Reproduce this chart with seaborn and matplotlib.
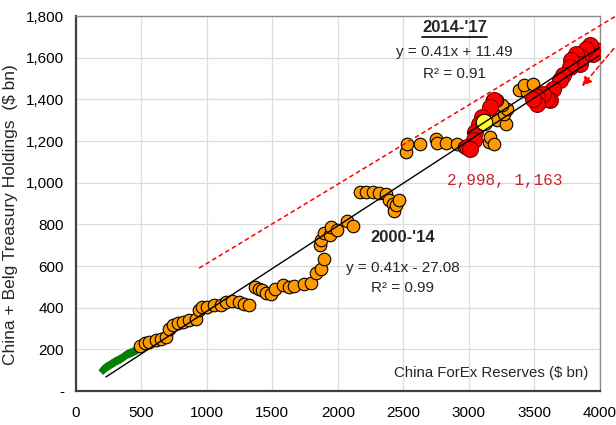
import matplotlib
matplotlib.use("Agg")
import matplotlib.pyplot as plt
import numpy as np
import pandas as pd
import seaborn as sns
from matplotlib.ticker import FuncFormatter

# green: earliest, small markers
green_x = [210, 220, 230, 240, 250, 262, 275, 285, 295, 305, 318, 330, 340, 352,
           365, 378, 390, 400, 410, 420, 432, 445, 458, 470]
green_y = [100, 108, 112, 118, 120, 125, 130, 134, 138, 142, 146, 150, 153, 158,
           163, 170, 175, 178, 180, 183, 186, 190, 194, 198]

# orange: 2000-'14
orange_x = [487, 525, 563, 613, 651, 689, 715, 739, 777, 815, 866, 916, 942, 967,
            1005, 1055, 1106, 1144, 1194, 1245, 1283, 1326, 1371, 1396, 1421, 1452,
            1487, 1517, 1578, 1629, 1669, 1745, 1796, 1830, 1871, 1894, 1866, 1871,
            1896, 1939, 1947, 1997, 2073, 2116, 2166, 2217, 2267, 2318, 2368, 2394,
            2419, 2432, 2445, 2470, 2520, 2527, 2628, 2747, 2755, 2823, 2906, 2962,
            3025, 3151, 3164, 3189, 3215, 3285, 3265, 3290, 3252, 3215, 3177, 3379,
            3442, 3417, 3493]
orange_y = [217, 229, 236, 244, 248, 261, 300, 317, 325, 332, 340, 344, 388, 401,
            404, 412, 412, 428, 432, 428, 420, 415, 500, 492, 484, 471,
            468, 491, 507, 500, 504, 513, 517, 567, 588, 632, 700, 724,
            759, 748, 788, 775, 817, 791, 956, 956, 956, 953, 948, 916,
            900, 865, 892, 916, 1148, 1185, 1185, 1212, 1191, 1191, 1185, 1172,
            1180, 1196, 1220, 1188, 1300, 1284, 1332, 1356, 1372, 1396, 1396, 1444,
            1436, 1468, 1476]

# red: 2014-'17
red_x = [3972, 3946, 3921, 3896, 3859, 3821, 3846, 3783, 3770, 3720, 3694, 3644,
         3616, 3593, 3568, 3518, 3518, 3492, 3189, 3164, 3101, 3076, 3050, 3038,
         2987, 3012]
red_y = [1636, 1620, 1660, 1643, 1604, 1620, 1571, 1588, 1556, 1516, 1492, 1452,
         1396, 1400, 1428, 1412, 1380, 1404, 1396, 1364, 1316, 1284, 1244, 1204,
         1172, 1164]

latest_x = [3114]
latest_y = [1292]

# regression fits: slope, intercept, x range
fit_0014 = (0.41, -27.08, [230, 4000])
fit_1417 = (0.41, 11.49, [2990, 4000])

trend_x = [942, 4120]
trend_y = [590, 1800]
arrow_from = (4120, 1655)
arrow_to = (3850, 1453)

sns.set_style("white")
plt.rcParams["font.family"] = ["Liberation Sans", "DejaVu Sans"]

fig = plt.figure(figsize=(6.16, 4.25), dpi=100)
ax = fig.add_axes([0.1229, 0.08, 0.851, 0.882])

ax.grid(True, color="#dcdcdc", linewidth=0.9)
ax.set_axisbelow(True)

sns.scatterplot(x=green_x, y=green_y, ax=ax, marker="D", s=24, color="#008000",
                edgecolor="none", zorder=3)
sns.scatterplot(x=orange_x, y=orange_y, ax=ax, s=82, color="#FF9900",
                edgecolor="black", linewidth=0.8, zorder=3)
sns.scatterplot(x=red_x, y=red_y, ax=ax, s=130, color="#FF0000",
                edgecolor="#7a0000", linewidth=0.8, zorder=4)
sns.scatterplot(x=latest_x, y=latest_y, ax=ax, s=140, color="#FFFF33",
                edgecolor="black", linewidth=0.8, zorder=5)

for slope, icpt, xr in (fit_0014, fit_1417):
    xs = np.array(xr, dtype=float)
    sns.lineplot(x=xs, y=slope * xs + icpt, ax=ax, color="black", linewidth=1.0,
                 zorder=6)

ax.plot(trend_x, trend_y, color="red", linestyle=(0, (3, 2)), linewidth=1.1,
        clip_on=False, zorder=6)
ax.annotate("", xy=arrow_to, xytext=arrow_from, annotation_clip=False,
            arrowprops=dict(arrowstyle="-|>", color="red", linestyle=(0, (3, 2)),
                            linewidth=1.1, mutation_scale=14), zorder=6)

ax.set_xlim(0, 4000)
ax.set_ylim(0, 1800)
ax.set_xticks(range(0, 4001, 500))
ax.set_yticks(range(0, 1801, 200))
ax.yaxis.set_major_formatter(FuncFormatter(lambda v, p: "-" if v == 0 else f"{v:,.0f}"))
ax.tick_params(axis="both", direction="out", length=5, width=1.2, color="#404040",
               labelsize=11, labelcolor="black")
ax.tick_params(axis="x", pad=6)

for side in ("left", "bottom"):
    ax.spines[side].set_color("#404040")
    ax.spines[side].set_linewidth(1.6)
for side in ("top", "right"):
    ax.spines[side].set_color("#8c8c8c")
    ax.spines[side].set_linewidth(1.0)

ax.set_ylabel("China + Belg Treasury Holdings  ($ bn)", fontsize=12.5)
ax.yaxis.set_label_coords(-0.111, 0.47)
ax.text(0.978, 0.048, "China ForEx Reserves ($ bn)", transform=ax.transAxes,
        ha="right", va="center", fontsize=10.8)

t = ax.text(2892, 1746, "2014-'17", ha="center", va="center", fontsize=12,
            fontweight="bold")
ax.text(2892, 1626, "y = 0.41x + 11.49", ha="center", va="center", fontsize=11)
ax.text(2892, 1520, "R² = 0.91", ha="center", va="center", fontsize=11)
ax.text(2495, 739, "2000-'14", ha="center", va="center", fontsize=12,
        fontweight="bold")
ax.text(2495, 590, "y = 0.41x - 27.08", ha="center", va="center", fontsize=11)
ax.text(2495, 494, "R² = 0.99", ha="center", va="center", fontsize=11)
ax.text(3275, 1012, "2,998, 1,163", ha="center", va="center", fontsize=11.5,
        color="#cc1f2a", family=["Liberation Mono", "DejaVu Sans Mono"])

# underline for the 2014-'17 heading
fig.canvas.draw()
bb = t.get_window_extent().transformed(ax.transData.inverted())
ax.plot([bb.x0, bb.x1], [bb.y0 - 8, bb.y0 - 8], color="black", linewidth=1.2)

fig.savefig("out.png", dpi=100)
